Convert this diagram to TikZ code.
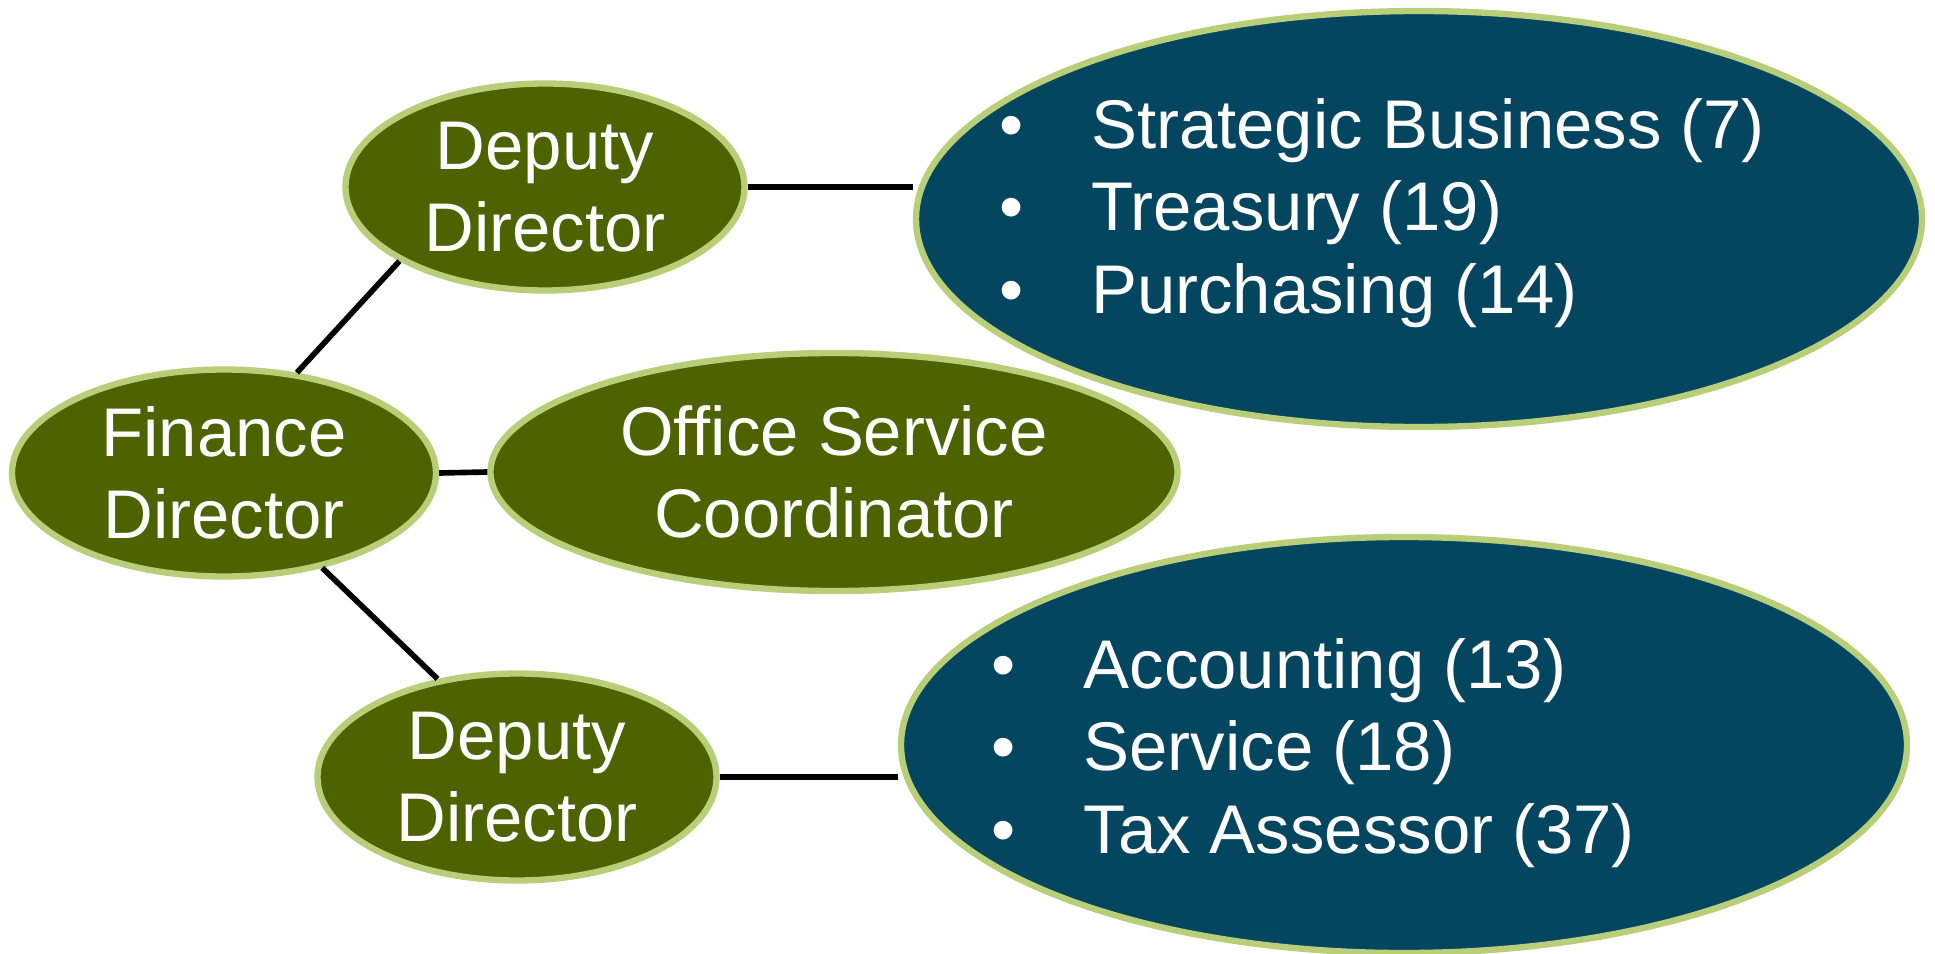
\documentclass[tikz,border=0pt]{standalone}
\usepackage{fontspec}
\setmainfont{Liberation Sans}
\usepackage{tikz}
\usetikzlibrary{shapes.geometric}

\definecolor{orggreen}{RGB}{78,99,0}
\definecolor{orgblue}{RGB}{4,70,95}
\definecolor{orgrim}{RGB}{184,206,120}

\newcommand{\boxfont}{\fontsize{19.6}{23.4}\selectfont}
\newcommand{\unititem}[1]{\makebox[0.92cm][l]{\char"2022}#1}

\begin{document}
\begin{tikzpicture}[
  every node/.style={ellipse, draw=orgrim, line width=1.8pt, text=white, inner sep=0pt, align=center, font=\boxfont},
  post/.style={fill=orggreen, minimum width=3.99cm, minimum height=2.07cm},
  unit/.style={fill=orgblue, minimum width=10.06cm, minimum height=4.16cm},
  unitlist/.style={draw=none, rectangle, align=left, anchor=west},
  link/.style={line width=1.6pt}]

  \useasboundingbox (0,0) rectangle (19.35,-9.53);

  \node (dep1) [post] at (5.45,-1.87) {Deputy\\Director};
  \node (fin) [post, minimum width=4.24cm] at (2.24,-4.73) {Finance\\Director};
  \node (osc) [post, minimum width=6.87cm, minimum height=2.38cm] at (8.34,-4.72) {Office Service\\Coordinator};
  \node (dep2) [post] at (5.17,-7.77) {Deputy\\Director};

  \node (units1) [unit] at (14.19,-2.19) {};
  \node (units2) [unit] at (14.04,-7.45) {};

  \node (list1) [unitlist] at ([xshift=-4.23cm, yshift=0.06cm]units1.center)
    {\unititem{Strategic Business (7)}\\ \unititem{Treasury (19)}\\ \unititem{Purchasing (14)}};
  \node (list2) [unitlist] at ([xshift=-4.155cm, yshift=-0.08cm]units2.center)
    {\unititem{Accounting (13)}\\ \unititem{Service (18)}\\ \unititem{Tax Assessor (37)}};

  \draw [link] (fin.54) -- (dep1.207);
  \draw [link] (fin.-44) -- (dep2.129);
  \draw [link] (fin.east) -- (osc.west);
  \draw [link] (dep1.east) -- (dep1.east -| units1.west);
  \draw [link] (dep2.east) -- (dep2.east -| units2.west);
\end{tikzpicture}
\end{document}
